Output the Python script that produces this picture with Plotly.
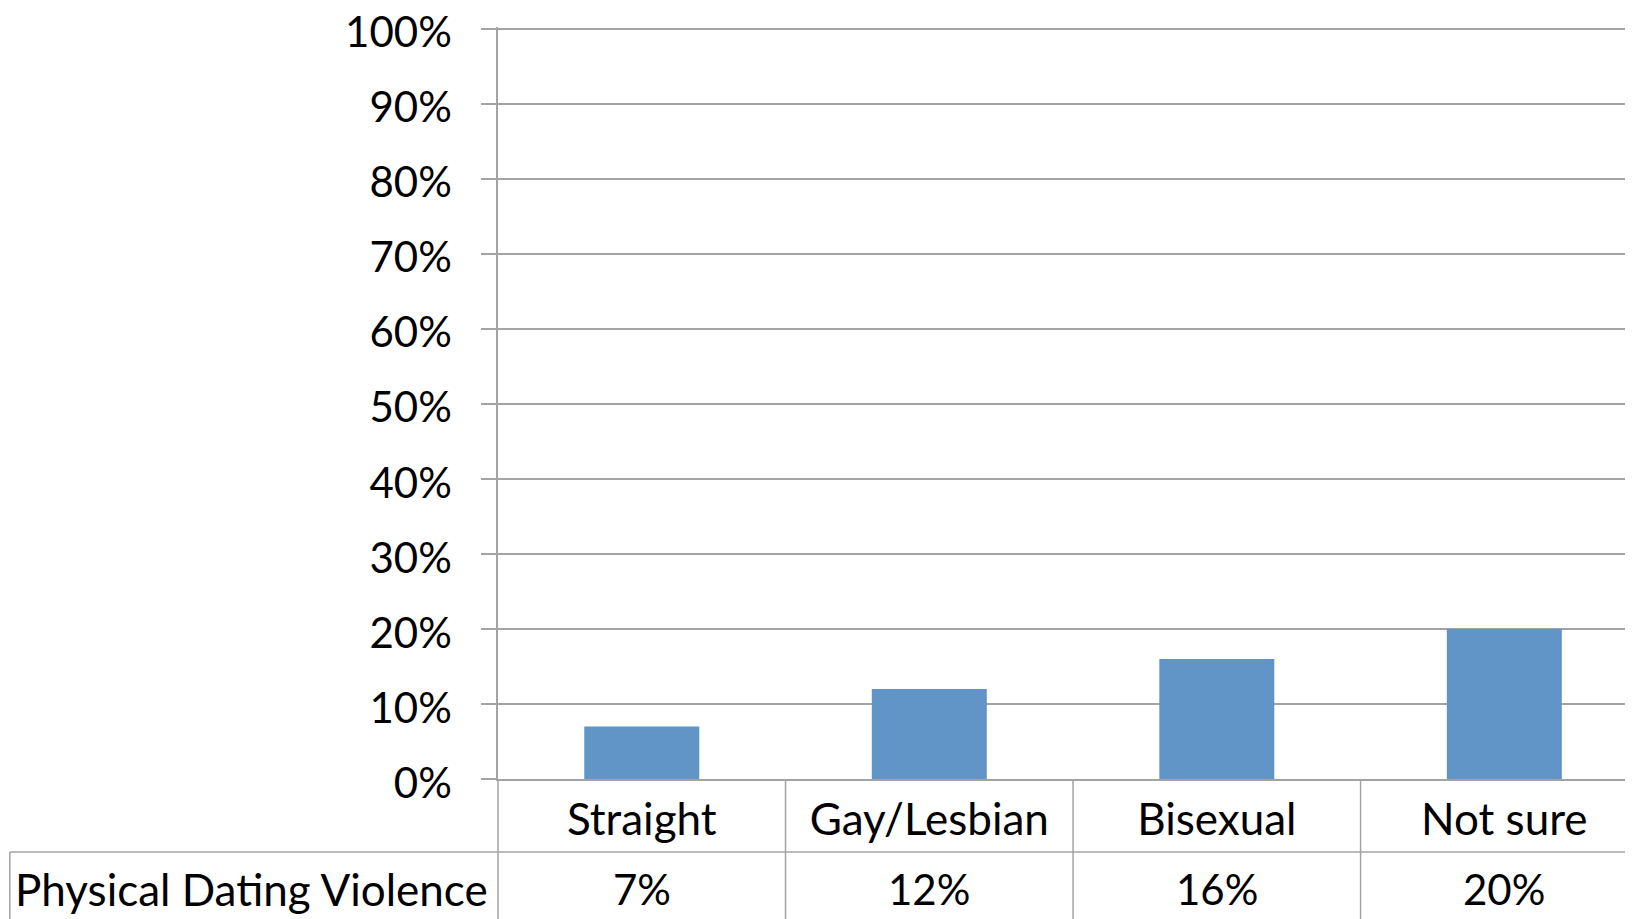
import plotly.graph_objects as go

categories = ["Straight", "Gay/Lesbian", "Bisexual", "Not sure"]
values = [0.07, 0.12, 0.16, 0.20]
value_labels = ["7%", "12%", "16%", "20%"]
series_name = "Physical Dating Violence"
y_ticks = [0, 0.1, 0.2, 0.3, 0.4, 0.5, 0.6, 0.7, 0.8, 0.9, 1.0]

# page offset from browser default body margin
OFF = 8
PAGE_W, PAGE_H = 1633, 919
W, H = PAGE_W - OFF, PAGE_H - OFF
L, T = 497.7 - OFF, 26.7 - OFF
B = PAGE_H - 779
plot_w = W - L
plot_h = H - T - B

FONT = "Lato"
FS = 42
FS_TXT = 44
GRID = "#a3a3a3"
BAR = "#6195c8"

def py(page_y):
    return (PAGE_H - B - page_y) / plot_h

def px(page_x):
    return (page_x - OFF - L) / plot_w

fig = go.Figure()
fig.add_trace(go.Bar(
    x=list(range(len(categories))), y=values, name=series_name,
    marker=dict(color=BAR, line=dict(width=0)), width=0.4,
))

shapes = []
for b in [0.5, 1.5, 2.5]:
    shapes.append(dict(type="line", xref="x", yref="paper", x0=b, x1=b,
                       y0=0, y1=py(PAGE_H + 5), line=dict(color=GRID, width=1.5)))
shapes.append(dict(type="line", xref="paper", yref="paper", x0=0, x1=0,
                   y0=0, y1=py(PAGE_H + 5), line=dict(color=GRID, width=1.5)))
shapes.append(dict(type="line", xref="paper", yref="paper", x0=px(9.4), x1=1.0,
                   y0=py(852), y1=py(852), line=dict(color=GRID, width=1.5)))
shapes.append(dict(type="line", xref="paper", yref="paper", x0=px(9.4), x1=px(9.4),
                   y0=py(852), y1=py(PAGE_H + 5), line=dict(color=GRID, width=1.5)))

annotations = []
for i, lab in enumerate(value_labels):
    annotations.append(dict(x=i, y=py(889), xref="x", yref="paper", text=lab,
                            showarrow=False, xanchor="center", yanchor="middle",
                            font=dict(family=FONT, size=FS, color="black")))
annotations.append(dict(x=px(251.5), y=py(889), xref="paper", yref="paper",
                        text=series_name, showarrow=False, xanchor="center",
                        yanchor="middle", font=dict(family=FONT, size=FS_TXT, color="black")))

fig.update_layout(
    width=W, height=H,
    margin=dict(l=L, r=0, t=T, b=B, pad=0, autoexpand=False),
    paper_bgcolor="white", plot_bgcolor="white",
    showlegend=False,
    font=dict(family=FONT, size=FS, color="black"),
    shapes=shapes,
    annotations=annotations,
    xaxis=dict(
        range=[-0.5, -0.5 + plot_w / 287.6], automargin=False,
        tickmode="array", tickvals=list(range(len(categories))), ticktext=categories,
        ticks="", showgrid=False, zeroline=False,
        showline=True, linecolor=GRID, linewidth=1.5,
        ticklabelstandoff=1,
        tickfont=dict(family=FONT, size=FS_TXT, color="black"),
    ),
    yaxis=dict(
        range=[0, 1.002], tickmode="array", tickvals=y_ticks, tickformat=".0%",
        automargin=False,
        showgrid=True, gridcolor=GRID, gridwidth=1.5,
        zeroline=False, showline=True, linecolor=GRID, linewidth=1.5,
        ticks="outside", ticklen=15, tickcolor=GRID, tickwidth=1.5,
        ticklabelstandoff=21, ticklabelshift=4, ticklabeloverflow="allow",
        tickfont=dict(family=FONT, size=FS, color="black"),
    ),
)

fig.write_html("out.html")
